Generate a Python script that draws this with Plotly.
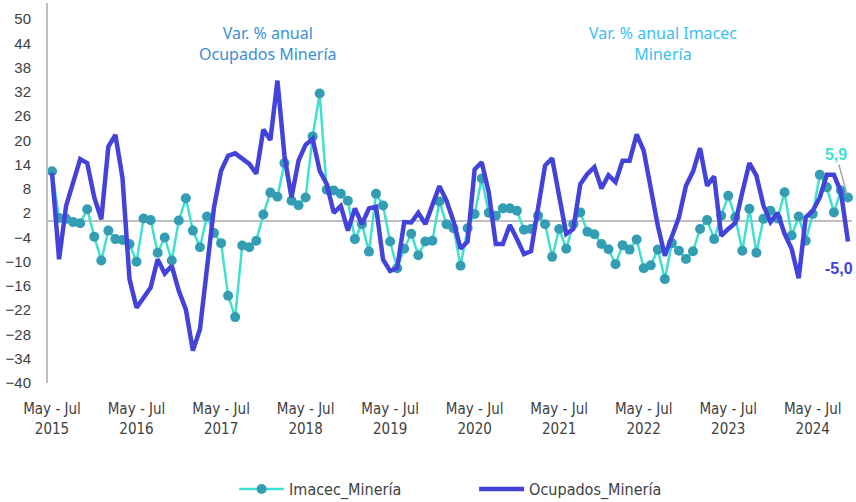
import plotly.graph_objects as go

imacec = [12.4, 0.8, 0.6, -0.2, -0.5, 3.0, -3.8, -9.7, -2.3, -4.4, -4.6, -5.6,
          -10.0, 0.7, 0.3, -7.8, -4.0, -9.7, 0.2, 5.7, -2.3, -6.4, 1.2, -2.9,
          -5.4, -18.4, -23.7, -6.0, -6.4, -4.8, 1.7, 7.1, 6.1, 14.4, 5.1, 4.0,
          5.9, 21.0, 31.6, 7.8, 7.6, 6.8, 5.1, -4.4, -0.7, -7.5, 6.8, 3.9,
          -5.0, -11.6, -6.8, -3.1, -8.4, -5.0, -4.8, 4.9, -0.7, -1.7, -11.0, -1.7,
          1.8, 10.6, 2.1, 1.4, 3.2, 3.2, 2.6, -2.1, -1.9, 1.4, -0.7, -8.8,
          -1.9, -6.8, -0.7, 2.2, -2.6, -3.2, -5.6, -6.9, -10.6, -5.9, -7.0, -4.5,
          -11.6, -10.9, -7.0, -14.3, -5.4, -7.3, -9.3, -7.4, -1.9, 0.3, -4.4, 1.4,
          6.3, 1.0, -7.3, 3.1, -7.8, 0.6, 2.6, 0.7, 7.2, -3.5, 1.2, -4.8,
          1.8, 11.5, 8.4, 2.2, 7.6, 5.9]

ocupados = [12.0, -9.4, 3.8, 9.2, 15.4, 14.4, 5.9, 0.5, 18.5, 21.4, 10.8, -14.3,
            -21.4, -18.9, -16.4, -9.4, -12.9, -11.0, -17.2, -21.8, -32.0, -26.7, -10.5, 3.5,
            12.5, 16.2, 16.8, 15.4, 14.2, 11.8, 22.7, 20.1, 34.8, 16.2, 5.9, 15.0,
            18.9, 20.4, 12.5, 9.2, 2.1, 3.8, -2.3, 3.2, -0.7, 3.2, 3.6, -9.5,
            -12.3, -11.6, -0.2, -0.3, 2.1, -0.7, 4.3, 8.7, 5.1, 0.0, -6.8, -5.0,
            12.8, 14.6, 7.2, -5.6, -5.6, -0.9, -4.4, -8.1, -7.4, 3.0, 13.8, 15.6,
            5.5, -3.1, -1.9, 9.2, 11.7, 13.4, 8.1, 11.4, 9.7, 15.0, 15.0, 21.5,
            17.5, 7.6, -1.1, -8.5, -3.5, 1.0, 8.8, 12.3, 18.1, 8.8, 11.1, -3.6,
            -1.9, -0.4, 7.2, 14.4, 11.3, 3.9, -0.2, 2.1, -3.1, -6.8, -14.1, 1.0,
            2.6, 5.9, 11.5, 11.5, 7.2, -5.0]

periods = list(range(len(imacec)))
tick_idx = [0, 12, 24, 36, 48, 60, 72, 84, 96, 108]
tick_labels = ["May - Jul<br>" + str(y) for y in range(2015, 2025)]
y_ticks = list(range(-40, 51, 6))

TEAL_LINE = "#40E0D0"
TEAL_MARK = "#339DB3"
BLUE = "#4343DC"
NARROW = "Liberation Sans Narrow, DejaVu Sans Condensed, sans-serif"

fig = go.Figure()
fig.add_trace(go.Scatter(
    x=periods, y=imacec, name="Imacec_Minería", mode="lines+markers",
    line=dict(color=TEAL_LINE, width=2.5),
    marker=dict(color=TEAL_MARK, size=10),
    cliponaxis=False,
))
fig.add_trace(go.Scatter(
    x=periods, y=ocupados, name="Ocupados_Minería", mode="lines",
    line=dict(color=BLUE, width=4.5),
    cliponaxis=False,
))

last = len(imacec) - 1
fig.add_annotation(x=last, y=imacec[last], text="<b>5,9</b>",
                   showarrow=True, arrowhead=0, arrowwidth=1.5, arrowcolor="#A6A6A6",
                   ax=-12, ay=-43, standoff=4,
                   font=dict(family="Liberation Sans, Arial", size=16, color=TEAL_LINE))
fig.add_annotation(x=last, y=ocupados[last], text="<b>-5,0</b>",
                   showarrow=False, xshift=-9, yshift=-27,
                   font=dict(family="Liberation Sans, Arial", size=16, color=BLUE))
fig.add_annotation(x=30.66, y=44, text="Var. % anual<br>Ocupados Minería",
                   showarrow=False,
                   font=dict(family="Noto Sans, sans-serif", size=16, color="#3A8FD6"))
fig.add_annotation(x=86.7, y=44, text="Var. % anual Imacec<br>Minería",
                   showarrow=False,
                   font=dict(family="Noto Sans, sans-serif", size=16, color="#3CC0F0"))

fig.update_layout(
    width=856, height=502,
    margin=dict(l=48, r=4, t=3, b=119, autoexpand=False),
    paper_bgcolor="white", plot_bgcolor="white",
    showlegend=True,
    legend=dict(orientation="h", x=0.53, xanchor="center", y=-0.279, yanchor="middle",
                font=dict(family=NARROW, size=16, color="#404040"),
                itemwidth=45, entrywidth=180, entrywidthmode="pixels"),
)
fig.update_xaxes(range=[-0.57, 113.57], tickvals=tick_idx, ticktext=tick_labels,
                 automargin=False,
                 showgrid=False, zeroline=False, showline=False,
                 ticks="outside", ticklen=12, tickcolor="rgba(0,0,0,0)",
                 tickfont=dict(family=NARROW, size=15, color="#404040"))
fig.update_yaxes(range=[-40, 54], tickvals=y_ticks, automargin=False,
                 showgrid=False, zeroline=True, zerolinecolor="#BFBFBF", zerolinewidth=2,
                 showline=True, linecolor="#BFBFBF", linewidth=2,
                 ticks="outside", ticklen=12, tickcolor="rgba(0,0,0,0)",
                 tickfont=dict(family="Liberation Sans, Arial", size=15, color="#404040"))

fig.write_html("out.html", config={"displayModeBar": False},
               post_script="document.body.style.margin='0';document.body.style.overflow='hidden';")
